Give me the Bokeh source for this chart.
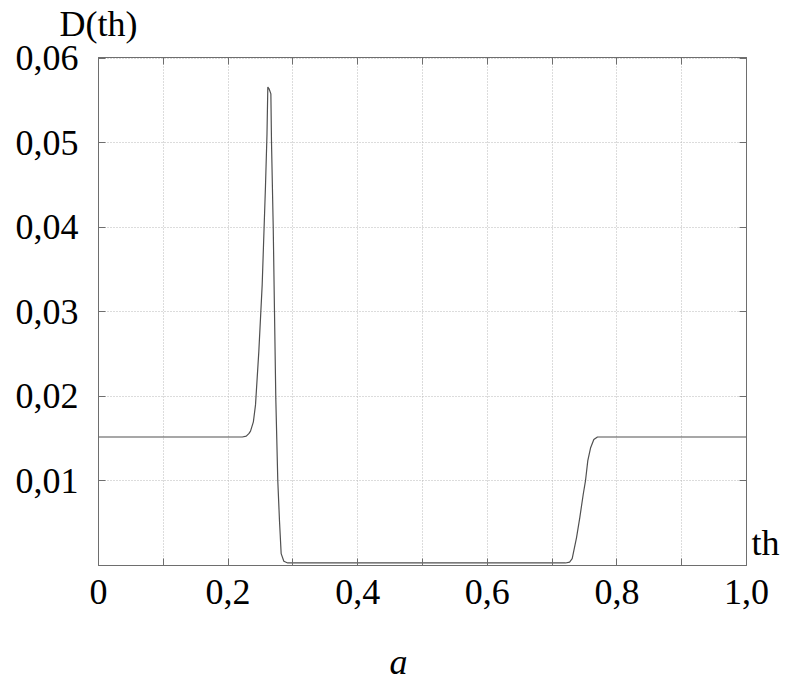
from bokeh.plotting import figure
from bokeh.models import LinearAxis, FixedTicker, Range1d
from bokeh.embed import file_html
from bokeh.resources import INLINE

# ---- data ----
th = [0.0, 0.2220, 0.2280, 0.2320, 0.2346, 0.2390, 0.2423, 0.2474, 0.2526,
      0.2577, 0.2600, 0.2613, 0.2632, 0.2660, 0.2670, 0.2696, 0.2716, 0.2736,
      0.2767, 0.2793, 0.2819, 0.2860, 0.2920, 0.7207, 0.7270, 0.7310, 0.7377,
      0.7428, 0.7480, 0.7515, 0.7551, 0.7593, 0.7644, 0.7700, 0.7747, 1.0]
D = [0.0152, 0.0152, 0.0153, 0.0156, 0.0159, 0.0170, 0.0190, 0.0253, 0.0332,
     0.0449, 0.0510, 0.0566, 0.0564, 0.0558, 0.0500, 0.0402, 0.0300, 0.0198,
     0.0100, 0.0053, 0.0014, 0.0005, 0.0003, 0.0003, 0.0004, 0.0008, 0.0033,
     0.0057, 0.0084, 0.0100, 0.0124, 0.0139, 0.0149, 0.0152, 0.0152, 0.0152]

x_ticks = [0.0, 0.1, 0.2, 0.3, 0.4, 0.5, 0.6, 0.7, 0.8, 0.9, 1.0]
x_labels = ["0", "", "0,2", "", "0,4", "", "0,6", "", "0,8", "", "1,0"]
y_ticks = [0.01, 0.02, 0.03, 0.04, 0.05, 0.06]
y_labels = ["0,01", "0,02", "0,03", "0,04", "0,05", "0,06"]
x_name = "th"
x_name_at = 0.0027
y_name = "D(th)"
y_name_at = 0.0
panel_name = "a"
panel_name_at = 0.463

FONT = "Liberation Serif"
FS = "36px"
FRAME = "#6e6e6e"
GRID = "#b8b8b8"

p = figure(width=785, height=684, x_range=Range1d(0, 1.0), y_range=Range1d(0, 0.0601),
           output_backend="svg", toolbar_location=None,
           min_border_left=98, min_border_right=39, min_border_top=54, min_border_bottom=119,
           background_fill_color="white", border_fill_color="white")

p.outline_line_color = FRAME
p.outline_line_width = 1

p.add_layout(LinearAxis(), "above")
p.add_layout(LinearAxis(), "right")

for ax in p.xaxis:
    ax.ticker = FixedTicker(ticks=x_ticks)
for ax in p.yaxis:
    ax.ticker = FixedTicker(ticks=y_ticks)

p.below[0].major_label_overrides = {t: l for t, l in zip(x_ticks, x_labels)}
p.left[0].major_label_overrides = {t: l for t, l in zip(y_ticks, y_labels)}
p.above[0].major_label_overrides = {t: "" for t in x_ticks}
p.right[0].major_label_overrides = {t: "" for t in y_ticks}

for ax in list(p.xaxis) + list(p.yaxis):
    ax.minor_tick_line_color = None
    ax.major_tick_in = 7
    ax.major_tick_out = 0
    ax.major_tick_line_color = FRAME
    ax.axis_line_color = FRAME
    ax.major_label_text_font = FONT
    ax.major_label_text_font_size = FS
    ax.major_label_text_color = "black"

p.below[0].major_label_standoff = 14
p.left[0].major_label_standoff = 20
for ax in (p.above[0], p.right[0]):
    ax.major_label_standoff = 0
    ax.major_label_text_font_size = "1px"


def name_axis(at, text, standoff, style="normal"):
    return LinearAxis(ticker=FixedTicker(ticks=[at]),
                      major_label_overrides={at: text},
                      major_tick_in=0, major_tick_out=0, minor_tick_line_color=None,
                      axis_line_color=None, major_label_standoff=standoff,
                      major_label_text_font=FONT, major_label_text_font_size=FS,
                      major_label_text_font_style=style,
                      major_label_text_color="black")


p.add_layout(name_axis(x_name_at, x_name, 5), "right")
p.add_layout(name_axis(y_name_at, y_name, 14), "above")
p.add_layout(name_axis(panel_name_at, panel_name, 35, "italic"), "below")

p.xgrid.ticker = FixedTicker(ticks=x_ticks)
p.ygrid.ticker = FixedTicker(ticks=y_ticks)
for g in list(p.xgrid) + list(p.ygrid):
    g.grid_line_color = GRID
    g.grid_line_dash = "1 2"
    g.grid_line_width = 1

p.line(th, D, line_color="#505050", line_width=1.2)

open("out.html", "w").write(file_html(p, INLINE))
